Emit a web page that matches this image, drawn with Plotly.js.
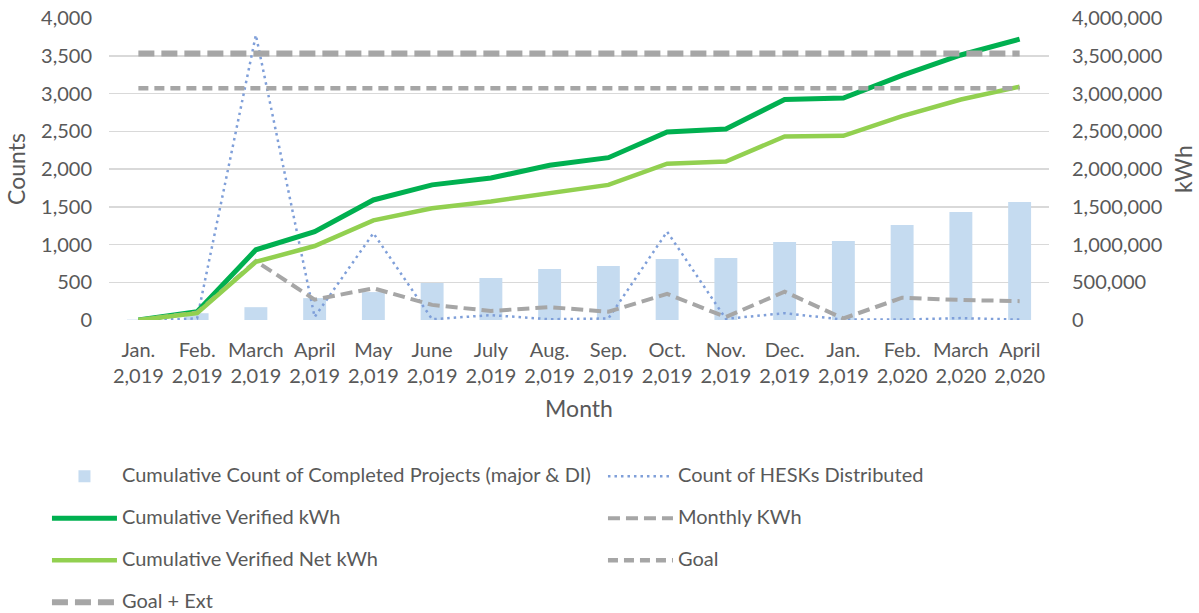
<!DOCTYPE html>
<html>
<head>
<meta charset="utf-8">
<script src="https://cdn.plot.ly/plotly-3.0.1.min.js"></script>
<style>html,body{margin:0;padding:0;background:#fff;}#chart{width:1199px;height:613px;}</style>
</head>
<body>
<div id="chart"></div>
<script>
// ---- data ----
const monthLabels = ['Jan.<br>2,019','Feb.<br>2,019','March<br>2,019','April<br>2,019','May<br>2,019','June<br>2,019','July<br>2,019','Aug.<br>2,019','Sep.<br>2,019','Oct.<br>2,019','Nov.<br>2,019','Dec.<br>2,019','Jan.<br>2,019','Feb.<br>2,020','March<br>2,020','April<br>2,020'];
const completedProjects = [5, 90, 170, 290, 370, 490, 556, 675, 715, 808, 821, 1033, 1046, 1258, 1430, 1563];
const hesksDistributed = [0, 20, 3775, 40, 1150, 10, 65, 10, 20, 1170, 15, 90, 5, 5, 25, 5];
const cumVerifiedKwh = [0, 110000, 930000, 1170000, 1590000, 1790000, 1880000, 2050000, 2150000, 2490000, 2530000, 2920000, 2940000, 3240000, 3510000, 3720000];
const cumVerifiedNetKwh = [0, 90000, 770000, 980000, 1320000, 1480000, 1570000, 1680000, 1790000, 2070000, 2100000, 2430000, 2440000, 2700000, 2920000, 3090000];
const monthlyKwh = [0, 100000, 780000, 270000, 420000, 200000, 120000, 170000, 110000, 345000, 40000, 375000, 20000, 295000, 265000, 250000];
const goalKwh = 3070000;
const goalExtKwh = 3530000;
const leftTicks = [0, 500, 1000, 1500, 2000, 2500, 3000, 3500, 4000];
const rightTicks = [0, 500000, 1000000, 1500000, 2000000, 2500000, 3000000, 3500000, 4000000];

const xIdx = monthLabels.map((_, i) => i);
const ends = [xIdx[0], xIdx[xIdx.length - 1]];
const nm = s => '<span style="font-size:20px">' + s + '</span><br> ';
const txt = '#595959';
const gray = '#A6A6A6';

const traces = [
  {type:'bar', x:xIdx, y:completedProjects, name:nm('Cumulative Count of Completed Projects (major &amp; DI)'),
   marker:{color:'#C5DBF0'}, yaxis:'y', legend:'legend'},
  {type:'scatter', mode:'lines', x:xIdx, y:hesksDistributed, name:nm('Count of HESKs Distributed'),
   line:{color:'#7F9FD9', width:2.5, dash:'2.5px,4px'}, yaxis:'y', legend:'legend2'},
  {type:'scatter', mode:'lines', x:xIdx, y:cumVerifiedKwh, name:nm('Cumulative Verified kWh'),
   line:{color:'#00B050', width:5}, yaxis:'y2', legend:'legend'},
  {type:'scatter', mode:'lines', x:xIdx, y:monthlyKwh, name:nm('Monthly KWh'),
   line:{color:gray, width:4, dash:'12px,6px'}, yaxis:'y2', legend:'legend2'},
  {type:'scatter', mode:'lines', x:xIdx, y:cumVerifiedNetKwh, name:nm('Cumulative Verified Net kWh'),
   line:{color:'#92D050', width:4.5}, yaxis:'y2', legend:'legend'},
  {type:'scatter', mode:'lines', x:ends, y:[goalKwh, goalKwh], name:nm('Goal'),
   line:{color:gray, width:4.5, dash:'10px,6px'}, yaxis:'y2', legend:'legend2'},
  {type:'scatter', mode:'lines', x:ends, y:[goalExtKwh, goalExtKwh], name:nm('Goal + Ext'),
   line:{color:gray, width:6, dash:'16px,7px'}, yaxis:'y2', legend:'legend'}
];

const legendBase = {
  orientation:'v', xref:'paper', yref:'paper',
  xanchor:'left', y:-0.4636, yanchor:'top', itemwidth:65, valign:'top', tracegroupgap:0,
  font:{size:15, color:txt}, traceorder:'normal', bgcolor:'rgba(0,0,0,0)'
};

const layout = {
  width:1199, height:613,
  margin:{l:109, r:150, t:18, b:293, autoexpand:false},
  paper_bgcolor:'#fff', plot_bgcolor:'#fff',
  font:{family:'Lato, sans-serif', color:txt, size:20},
  bargap:0.61,
  showlegend:true,
  xaxis:{
    range:[-0.5, 15.5], tickvals:xIdx, ticktext:monthLabels,
    showgrid:false, zeroline:false, showline:false, ticks:'',
    tickfont:{size:20, color:txt}, ticklabelstandoff:16,
    title:{text:'Month', font:{size:23, color:txt}, standoff:14}
  },
  yaxis:{
    range:[0, 4000], tickvals:leftTicks, ticktext:leftTicks.map(v=>v.toLocaleString('en-US')),
    showgrid:true, gridcolor:'#D9D9D9', gridwidth:1.5, zeroline:false, showline:false, ticks:'',
    tickfont:{size:20, color:txt}, ticklabelstandoff:16,
    title:{text:'Counts', font:{size:23, color:txt}, standoff:8}
  },
  yaxis2:{
    range:[0, 4000000], overlaying:'y', side:'right',
    tickvals:rightTicks, ticktext:rightTicks.map(v=>v.toLocaleString('en-US')),
    showgrid:false, zeroline:false, showline:false, ticks:'',
    tickfont:{size:20, color:txt}, ticklabelstandoff:22,
    title:{text:'kWh', font:{size:23, color:txt}, standoff:14}
  },
  legend:Object.assign({}, legendBase, {x:-0.066}),
  legend2:Object.assign({}, legendBase, {x:0.5255})
};

Plotly.newPlot('chart', traces, layout, {displayModeBar:false, staticPlot:true});
</script>
</body>
</html>
